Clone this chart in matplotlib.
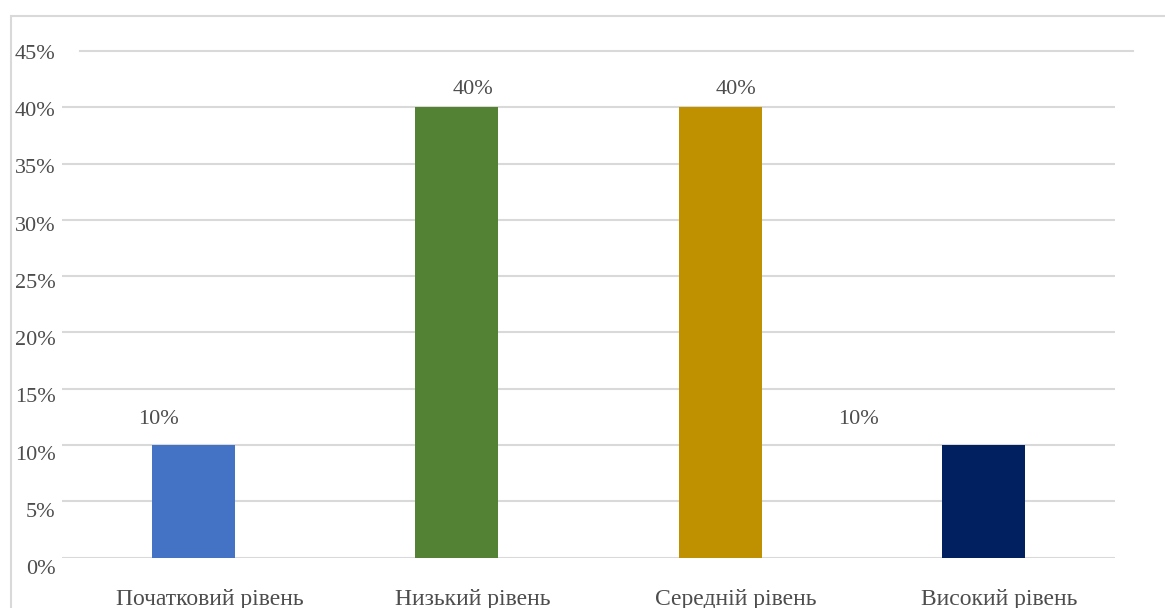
import matplotlib.pyplot as plt
from matplotlib.patches import Rectangle
from matplotlib.ticker import FuncFormatter, MultipleLocator

categories = ["Початковий рівень", "Низький рівень", "Середній рівень", "Високий рівень"]
values = [0.10, 0.40, 0.40, 0.10]
colors = ["#4472C4", "#548235", "#BF9000", "#002060"]
value_labels = ["10%", "40%", "40%", "10%"]
# label offsets (pixels) as placed in the original chart
label_dx = [-35, 16, 16, -125]
label_dy = [25, 18, 18, 25]

plt.rcParams["font.family"] = ["Liberation Serif", "DejaVu Serif"]
txt = "#4d4d4d"
grid = "#D9D9D9"

W, H = 1165, 608
fig = plt.figure(figsize=(W / 100, H / 100), dpi=100)
ax = fig.add_axes([62 / W, (H - 557.5) / H, (1115 - 62) / W, (557.5 - 51) / H])
# separate axis for the y labels (they sit slightly off the gridlines in the original)
lax = fig.add_axes([62 / W, (H - 567) / H, 0.001, (567 - 52) / H], zorder=-1)

# chart border
fig.patches.append(Rectangle((11 / W, -0.1), 1.2, (H - 16) / H + 0.1,
                             transform=fig.transFigure, fill=False,
                             edgecolor=grid, lw=1.5))

x = range(len(categories))
ax.bar(x, values, width=0.316, color=colors, zorder=3)
ax.set_xlim(-0.5, 3.5)
ax.set_ylim(0, 0.45)
ax.yaxis.set_major_locator(MultipleLocator(0.05))
for v in ax.get_yticks():
    if v < 0.449:
        ax.axhline(v, color=grid, lw=1.5, zorder=1)
ax.plot([18 / 1053, 1 + 18 / 1053], [1, 1], transform=ax.transAxes,
        color=grid, lw=1.5, clip_on=False)
ax.set_xticks([])
ax.set_yticks([])
for s in ax.spines.values():
    s.set_visible(False)

lax.set_ylim(0, 0.45)
lax.yaxis.set_major_locator(MultipleLocator(0.05))
lax.yaxis.set_major_formatter(FuncFormatter(lambda v, p: f"{v * 100:.0f}%"))
lax.set_xticks([])
lax.patch.set_visible(False)
for s in lax.spines.values():
    s.set_visible(False)
lax.tick_params(length=0, labelsize=16, colors=txt, pad=4.5)

for i, v in enumerate(values):
    ax.annotate(value_labels[i], (i, v), xytext=(label_dx[i], label_dy[i]),
                textcoords="offset pixels", ha="center", va="center",
                fontsize=16, color=txt)
    ax.annotate(categories[i], (i, 0), xytext=(16, -42),
                textcoords="offset pixels", ha="center", va="center",
                fontsize=17, color=txt, annotation_clip=False)

fig.savefig("out.png", dpi=100)
